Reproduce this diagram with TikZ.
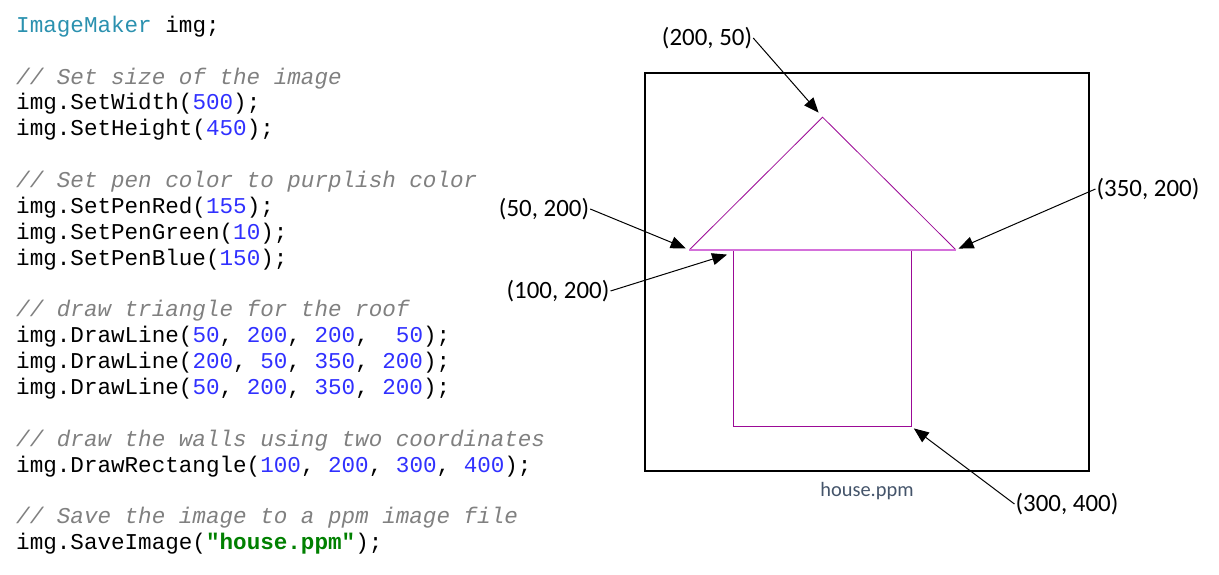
\documentclass[tikz,border=0pt]{standalone}
\usepackage{fontspec}
\setmainfont{Carlito}
\setmonofont{Liberation Mono}
\usepackage{tikz}
\usetikzlibrary{arrows.meta}
\usetikzlibrary{calc}
\tikzset{>={Triangle[length=15pt,width=12pt]}}
\definecolor{pen}{RGB}{155,10,150}
\definecolor{penlight}{RGB}{212,112,218}
\definecolor{typecol}{RGB}{43,145,175}
\definecolor{numcol}{RGB}{48,48,255}
\definecolor{cmtcol}{RGB}{128,128,128}
\definecolor{strcol}{RGB}{0,128,0}
\definecolor{capcol}{RGB}{68,84,106}
\newcommand{\tp}[1]{\textcolor{typecol}{#1}}
\newcommand{\nm}[1]{\textcolor{numcol}{#1}}
\newcommand{\cm}[1]{\textcolor{cmtcol}{\itshape #1}}
\newcommand{\str}[1]{\textcolor{strcol}{\bfseries #1}}

\begin{document}
\begin{tikzpicture}[x=1pt,y=-1pt,
    code/.style={anchor=base west,inner sep=0pt,font=\fontsize{22.6}{25.9}\selectfont\ttfamily\frenchspacing},
    lbl/.style={inner sep=1pt,font=\fontsize{24.9}{30}\selectfont},
    arr/.style={->,line width=1pt}]
    \useasboundingbox (0,0) rectangle (1219,575);
    \foreach \n/\t in {0/{\tp{ImageMaker} img;},
        2/{\cm{// Set size of the image}},
        3/{img.SetWidth(\nm{500});},
        4/{img.SetHeight(\nm{450});},
        6/{\cm{// Set pen color to purplish color}},
        7/{img.SetPenRed(\nm{155});},
        8/{img.SetPenGreen(\nm{10});},
        9/{img.SetPenBlue(\nm{150});},
        11/{\cm{// draw triangle for the roof}},
        12/{img.DrawLine(\nm{50}, \nm{200}, \nm{200},~ \nm{50});},
        13/{img.DrawLine(\nm{200}, \nm{50}, \nm{350}, \nm{200});},
        14/{img.DrawLine(\nm{50}, \nm{200}, \nm{350}, \nm{200});},
        16/{\cm{// draw the walls using two coordinates}},
        17/{img.DrawRectangle(\nm{100}, \nm{200}, \nm{300}, \nm{400});},
        19/{\cm{// Save the image to a ppm image file}},
        20/{img.SaveImage(\str{"house.ppm"});}} {
      \node[code] (c\n) at (16,{32.4+25.86*\n}) {\t};
    }
    \begin{scope}[shift={(645,73)},xscale=0.888,yscale=0.884]
        \draw[line width=2.5pt] (0,0) rectangle (500,450);
        \coordinate (apex) at (200,50);
        \coordinate (left) at (50,200);
        \coordinate (right) at (350,200);
        \coordinate (wall) at (100,200);
        \coordinate (foot) at (300,400);
        \draw[pen,line width=0.8pt] (left) -- (apex) -- (right);
        \draw[pen,line width=1pt] (wall) rectangle (foot);
        \draw[penlight,line width=1.5pt] (left) -- (right);
        \node[font=\fontsize{20.4}{24}\selectfont,text=capcol] (file) at (250,473) {house.ppm};
    \end{scope}
    \node[lbl] (lapex) at (707,38) {(200, 50)};
    \node[lbl] (lleft) at (544,209) {(50, 200)};
    \node[lbl] (lwall) at (558,291) {(100, 200)};
    \node[lbl] (lright) at (1148,189) {(350, 200)};
    \node[lbl] (lfoot) at (1067,504) {(300, 400)};
    \draw[arr,shorten >=6pt] (lapex.east) -- (apex);
    \draw[arr,shorten >=4pt] (lleft.east) -- (left);
    \draw[arr,shorten >=6pt] (lwall.east) -- ($(wall)+(-1,3)$);
    \draw[arr,shorten >=3pt] (lright.west) -- (right);
    \draw[arr,shorten >=3pt] (lfoot.west) -- (foot);
\end{tikzpicture}
\end{document}
